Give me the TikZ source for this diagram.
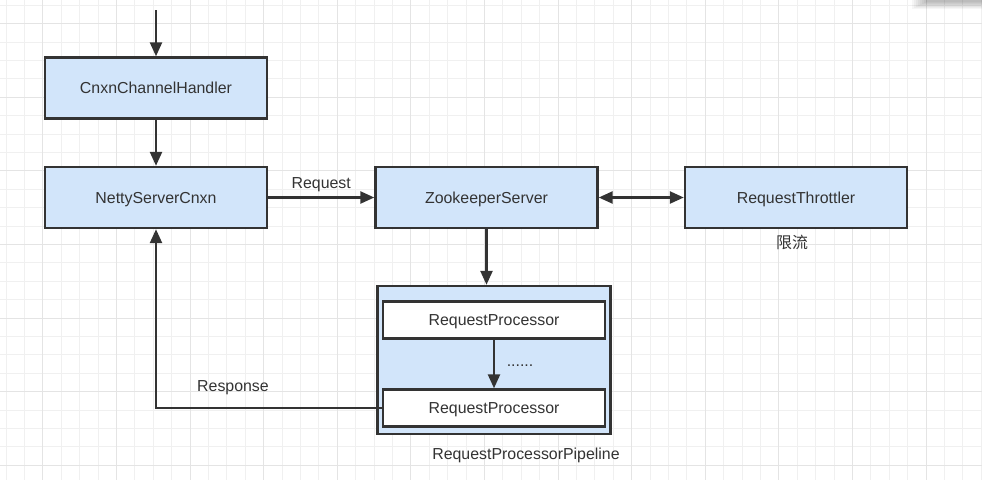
\documentclass[tikz,border=0pt]{standalone}
\usepackage{fontspec}
\setmainfont{Liberation Sans}
\newfontfamily\cjkfont{Noto Sans CJK SC}
\usetikzlibrary{arrows.meta}
\definecolor{boxfill}{HTML}{D2E5FA}
\definecolor{ink}{HTML}{333333}
\definecolor{gridminor}{HTML}{F0F0F0}
\definecolor{gridmajor}{HTML}{E4E4E4}
\tikzset{
  box/.style={draw=ink, line width=2.4pt, fill=boxfill, minimum width=222pt, minimum height=61pt, inner sep=0pt, text=ink, font=\fontsize{15.9}{18}\selectfont, text height=11.4pt, text depth=0pt},
  procbox/.style={draw=ink, line width=2.4pt, fill=white, minimum width=222pt, minimum height=37pt, inner sep=0pt, text=ink, font=\fontsize{15.9}{18}\selectfont, text height=11.4pt, text depth=0pt},
  container/.style={draw=ink, line width=2.4pt, fill=boxfill, minimum width=233pt, minimum height=148pt, inner sep=0pt},
  lbl/.style={text=ink, font=\fontsize{15.9}{18}\selectfont, inner sep=0pt},
  tip/.tip={Triangle[length=14pt,width=12pt]},
  conn/.style={draw=ink, line width=2.4pt, -tip},
}
\begin{document}
\begin{tikzpicture}[x=1pt,y=-1pt]
\useasboundingbox (0,0) rectangle (982,480);
\fill[white] (0,0) rectangle (982,480);
% grid
\foreach \i in {0,...,53} {
  \pgfmathsetmacro{\xx}{6.1+18.4*\i}
  \draw[gridminor, line width=1pt] (\xx,0) -- (\xx,480);
}
\foreach \i in {0,...,26} {
  \pgfmathsetmacro{\yy}{5.3+18.4*\i}
  \draw[gridminor, line width=1pt] (0,\yy) -- (982,\yy);
}
\foreach \i in {0,...,13} {
  \pgfmathsetmacro{\xx}{42.9+73.6*\i}
  \draw[gridmajor, line width=1pt] (\xx,0) -- (\xx,480);
}
\foreach \i in {0,...,6} {
  \pgfmathsetmacro{\yy}{23.7+73.6*\i}
  \draw[gridmajor, line width=1pt] (0,\yy) -- (982,\yy);
}
% window shadow at top right
\foreach \i in {0,...,7} {
  \fill[black, opacity=0.035] (912+2*\i,0) rectangle (982,9-\i);
}
% nodes
\coordinate (top) at (156,10);
\node[box] (cch) at (156,88) {CnxnChannelHandler};
\node[box] (nsc) at (156,197.5) {NettyServerCnxn};
\node[box] (zks) at (486.5,197.5) {ZookeeperServer};
\node[box] (rt) at (796,197.5) {RequestThrottler};
\node[lbl] (xl) at (792,242) {\cjkfont 限流};
\node[container] (pipe) at (494,360) {};
\node[procbox] (rp1) at (494,320) {RequestProcessor};
\node[procbox] (rp2) at (494,408) {RequestProcessor};
\node[lbl] (dots) at (520,366) {......};
\node[lbl] (pl) at (526,455) {RequestProcessorPipeline};
% connectors
\draw[conn] (top) -- (cch.north);
\draw[conn] (cch.south) -- (nsc.north);
\draw[conn] (nsc.east) -- node[lbl, above=5pt] {Request} (zks.west);
\draw[draw=ink, line width=2.4pt, tip-tip] (zks.east) -- (rt.west);
\draw[conn] (zks.south) -- (zks.south |- pipe.north);
\draw[conn] (rp1.south) -- (rp2.north);
\draw[conn] (rp2.west) -| (nsc.south);
\node[lbl] (resp) at (233,388) {Response};
\end{tikzpicture}
\end{document}
